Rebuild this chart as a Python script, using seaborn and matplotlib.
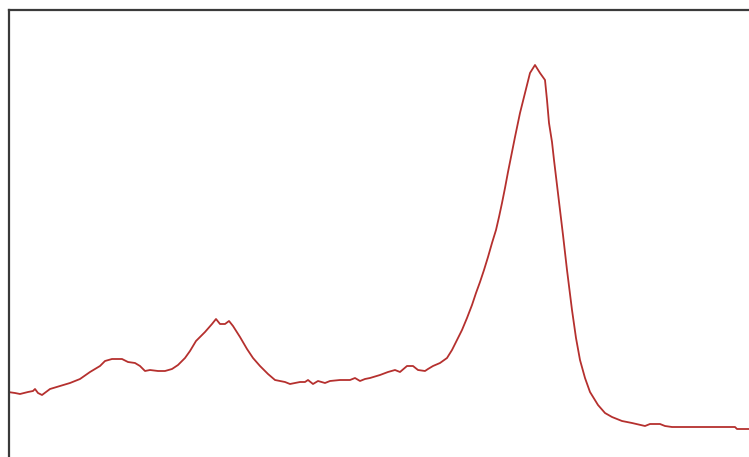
import numpy as np
import matplotlib
matplotlib.use("Agg")
import matplotlib.pyplot as plt
import pandas as pd
import seaborn as sns

# --- data (channel vs. intensity) ---
channel = [8, 15, 20, 28, 33, 35, 38, 42, 50, 60, 70, 80, 90, 100, 105, 112, 122,
           128, 135, 140, 145, 150, 158, 165, 172, 178, 185, 190, 196, 205, 212,
           216, 220, 225, 229, 233, 240, 247, 253, 260, 268, 275, 285, 290, 300,
           305, 308, 313, 318, 325, 330, 340, 350, 355, 360, 365, 370, 380, 388,
           395, 400, 407, 413, 418, 425, 428, 433, 440, 447, 452, 457, 462, 467,
           472, 476, 480, 484, 488, 492, 496, 499, 502, 505, 508, 511, 515, 520,
           525, 530, 535, 540, 545, 547, 549, 552, 554, 557, 560, 563, 567, 572,
           576, 580, 585, 590, 598, 605, 612, 622, 632, 645, 650, 660, 665, 672,
           690, 735, 737, 749, 760]
pixel_y = [392, 393, 394, 392, 391, 389, 393, 395, 389, 386, 383, 379, 372, 366,
           361, 359, 359, 362, 363, 366, 371, 370, 371, 371, 369, 365, 358, 351,
           341, 332, 324, 319, 324, 324, 321, 326, 337, 349, 358, 366, 374, 380,
           382, 384, 382, 382, 380, 384, 381, 383, 381, 380, 380, 378, 381, 379,
           378, 375, 372, 370, 372, 366, 366, 370, 371, 369, 366, 363, 358, 350,
           340, 330, 318, 305, 293, 282, 270, 257, 243, 230, 217, 203, 188, 172,
           157, 137, 113, 93, 73, 65, 73, 80, 100, 123, 142, 160, 185, 210, 235,
           270, 310, 338, 360, 378, 392, 405, 413, 417, 421, 423, 426, 424, 424,
           426, 427, 427, 427, 429, 429, 429]
intensity = [457 - v for v in pixel_y]

df = pd.DataFrame({"channel": channel, "intensity": intensity})

W, H = 749, 457
fig = plt.figure(figsize=(W / 100, H / 100), dpi=100)
fig.patch.set_facecolor("white")

# frame runs off the right and bottom of the picture
left, top = 8.5, 9.5
right, bottom = 770, 475
ax = fig.add_axes([left / W, (H - bottom) / H, (right - left) / W, (bottom - top) / H])

sns.lineplot(data=df, x="channel", y="intensity", ax=ax, color="#b5302e", linewidth=1.3)

ax.set_xlim(left, right)
ax.set_ylim(H - bottom, H - top)
ax.set_xticks([])
ax.set_yticks([])
ax.set_xlabel("")
ax.set_ylabel("")
for side in ["left", "top"]:
    ax.spines[side].set_color("#3a3a3a")
    ax.spines[side].set_linewidth(1.6)
for side in ["right", "bottom"]:
    ax.spines[side].set_visible(False)

fig.savefig("out.png", dpi=100, facecolor="white")
